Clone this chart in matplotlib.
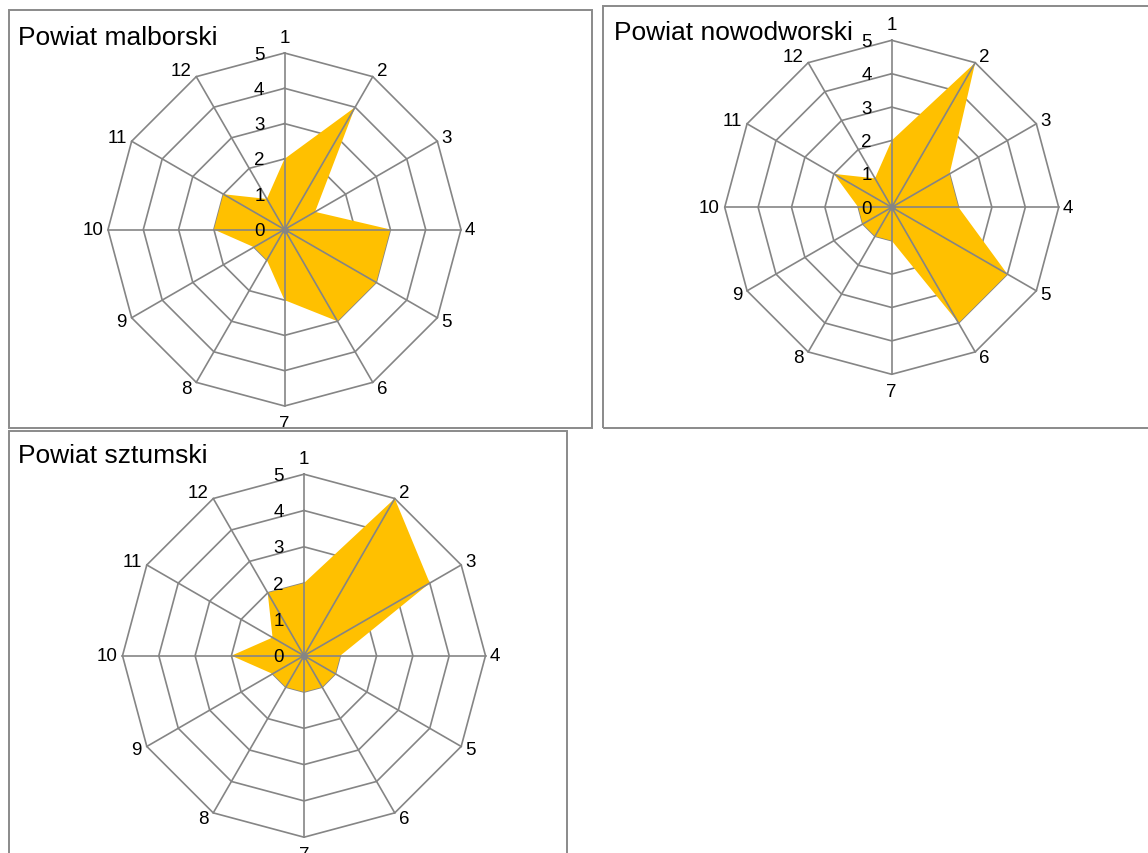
import numpy as np
import matplotlib
matplotlib.use('Agg')
import matplotlib.pyplot as plt
from matplotlib.patches import Rectangle

plt.rcParams['font.family'] = ['Liberation Sans', 'DejaVu Sans']

# data: 12 categories, values 0-5
categories = [str(i) for i in range(1, 13)]
r_ticks = [0, 1, 2, 3, 4, 5]
titles = ['Powiat malborski', 'Powiat nowodworski', 'Powiat sztumski']
malborski = [2, 4, 1, 3, 3, 3, 2, 1, 1, 2, 2, 1]
nowodworski = [2, 5, 2, 2, 4, 4, 1, 1, 1, 1, 2, 1]
sztumski = [2, 5, 4, 1, 1, 1, 1, 1, 1, 2, 1, 2]
series = [malborski, nowodworski, sztumski]

W, H = 1148, 854
GRID = '#858585'
FILL = '#FFC000'

# layout in pixels: chart centre + radius, panel box, title baseline
centres = [(284.5, 230.5, 176.5), (891.7, 208.3, 167.0), (304.0, 656.7, 181.5)]
boxes = [(9, 11, 592, 429), (603, 7, 1152, 429), (9, 432, 567, 870)]
title_pos = [(18, 45), (614, 40), (18, 463)]

fig = plt.figure(figsize=(W / 100, H / 100), dpi=100)

angles = np.linspace(0, 2 * np.pi, len(categories), endpoint=False)
ang_closed = np.append(angles, angles[0])

for k in range(3):
    cx, cy, R = centres[k]
    x0, y0, x1, y1 = boxes[k]
    rect = Rectangle((x0 / W, 1 - y1 / H), (x1 - x0) / W, (y1 - y0) / H,
                     transform=fig.transFigure, fill=False,
                     edgecolor='#8a8a8a', lw=1.4, zorder=10)
    fig.add_artist(rect)
    fig.text(title_pos[k][0] / W, 1 - title_pos[k][1] / H, titles[k],
             fontsize=19, ha='left', va='baseline', color='black')

    ax = fig.add_axes([(cx - R) / W, 1 - (cy + R) / H, 2 * R / W, 2 * R / H],
                      projection='polar')
    ax.set_theta_zero_location('N')
    ax.set_theta_direction(-1)
    ax.set_ylim(0, 5)
    ax.patch.set_visible(False)
    ax.spines['polar'].set_visible(False)
    ax.grid(False)
    ax.set_xticks([])
    ax.set_yticks([])

    # polygon rings
    for r in r_ticks[1:]:
        ax.plot(ang_closed, [r] * len(ang_closed), color=GRID, lw=1.2,
                clip_on=False, zorder=1)

    vals = series[k]
    ax.fill(ang_closed, vals + vals[:1], color=FILL, lw=0, zorder=2, clip_on=False)

    # spokes
    for a in angles:
        ax.plot([a, a], [0, r_ticks[-1]], color=GRID, lw=1.2, clip_on=False, zorder=3)
    ax.plot([0], [0], 'o', color=GRID, ms=4, zorder=4, clip_on=False)

    # category labels
    for i, lab in enumerate(categories):
        deg = i * 360 / len(categories)
        c = np.cos(np.radians(deg))
        if deg == 0:
            ha, va, off = 'center', 'baseline', (0, 11)
        elif deg == 180:
            ha, va, off = 'center', 'top', (0, -9)
        elif deg < 180:
            ha, va, off = 'left', 'center', (4, 7 * c)
        else:
            ha, va, off = 'right', 'center', (-5, 7 * c)
        t = ax.annotate(lab, xy=(angles[i], r_ticks[-1]), xytext=off,
                        textcoords='offset pixels', ha=ha, va=va,
                        fontsize=13.5, color='black', annotation_clip=False)
        t.set_clip_path(rect)

    # value axis labels
    for r in r_ticks:
        t = ax.annotate(str(r), xy=(0, r), xytext=(-20, -1),
                        textcoords='offset pixels', ha='right', va='center',
                        fontsize=13.5, color='black', annotation_clip=False)
        t.set_clip_path(rect)

fig.savefig('out.png', dpi=100)
